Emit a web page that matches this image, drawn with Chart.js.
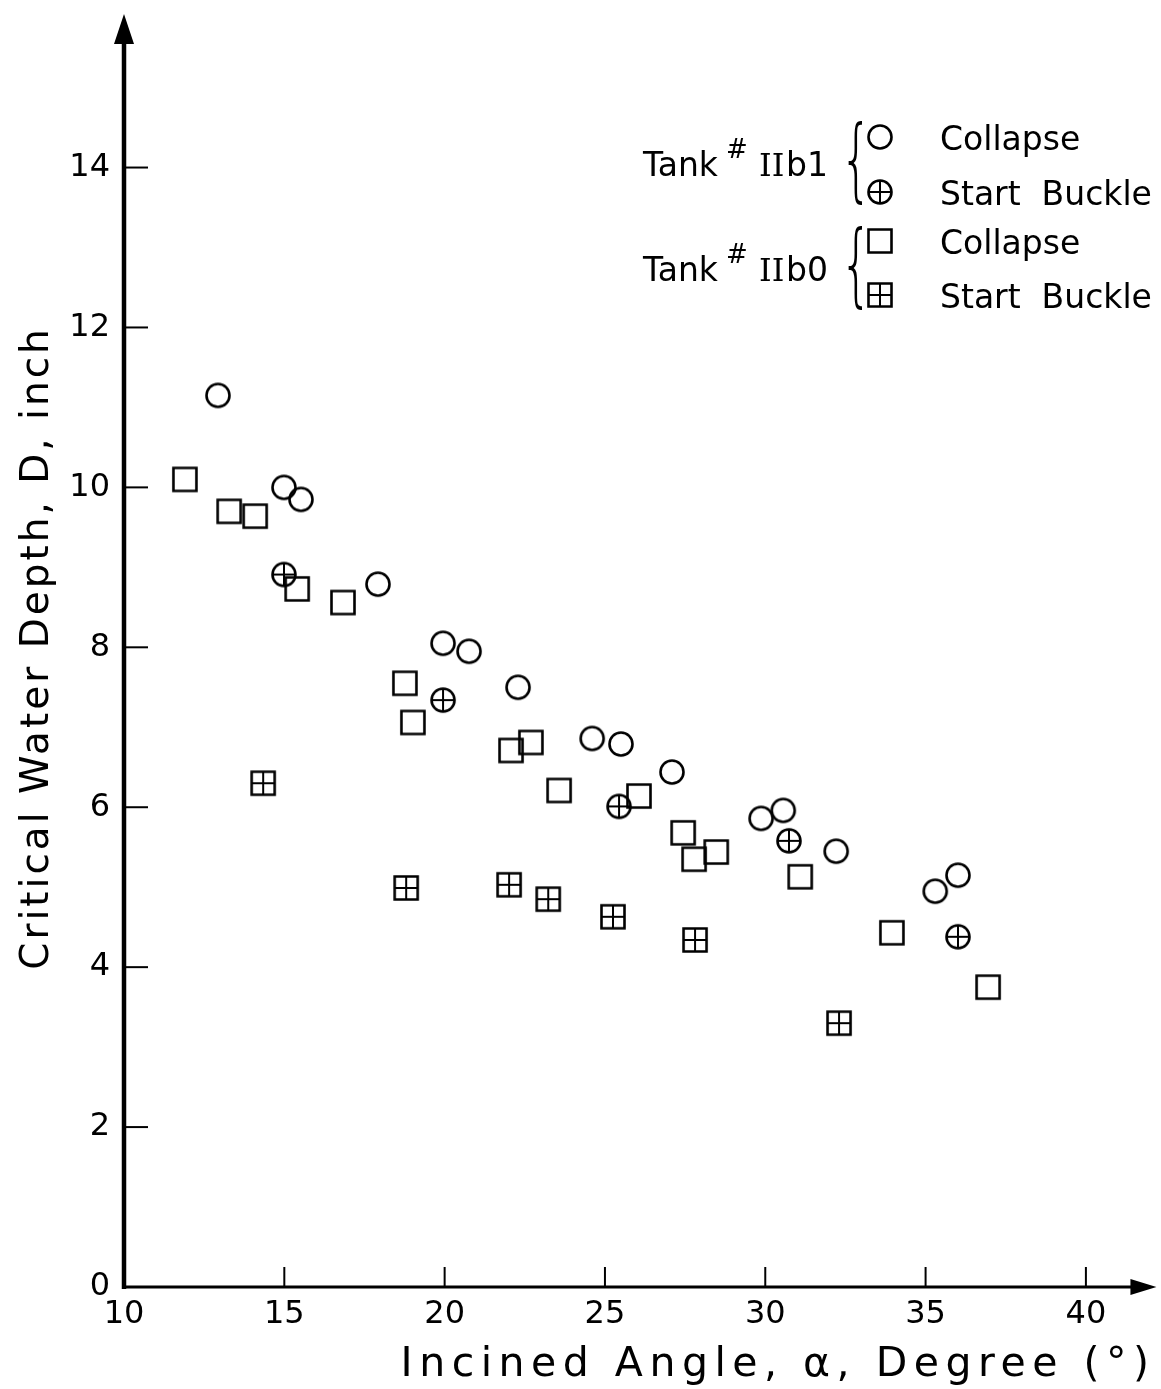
<!DOCTYPE html>
<html>
<head>
<meta charset="utf-8">
<script src="https://cdn.jsdelivr.net/npm/chart.js@4"></script>
<style>
  body { margin: 0; background: #fff; }
  canvas { display: block; }
</style>
</head>
<body>
<canvas id="chart" width="1161" height="1389"></canvas>
<script>
// Tank #IIb1 - collapse (open circle)
const anguloColapsoB1 = [12.93, 14.99, 15.52, 17.92, 19.95, 20.76, 22.29, 24.6, 25.5, 27.09, 29.87, 30.56, 32.21, 35.3, 36.01];
const profColapsoB1   = [11.15, 10.0, 9.85, 8.79, 8.05, 7.95, 7.5, 6.86, 6.79, 6.44, 5.86, 5.96, 5.45, 4.95, 5.15];
// Tank #IIb1 - start buckle (circle with cross)
const anguloInicioB1 = [14.99, 19.95, 25.44, 30.74, 36.01];
const profInicioB1   = [8.91, 7.34, 6.01, 5.58, 4.38];
// Tank #IIb0 - collapse (open square)
const anguloColapsoB0 = [11.9, 13.28, 14.09, 15.4, 16.83, 18.76, 19.01, 22.07, 22.69, 23.57, 26.06, 27.44, 27.78, 28.47, 31.09, 33.95, 36.95];
const profColapsoB0   = [10.1, 9.7, 9.64, 8.73, 8.56, 7.55, 7.06, 6.71, 6.81, 6.21, 6.14, 5.68, 5.35, 5.44, 5.13, 4.43, 3.75];
// Tank #IIb0 - start buckle (square with cross)
const anguloInicioB0 = [14.34, 18.8, 22.01, 23.23, 25.25, 27.81, 32.3];
const profInicioB0   = [6.3, 4.99, 5.03, 4.85, 4.63, 4.34, 3.3];

const ticksX = [10, 15, 20, 25, 30, 35, 40];
const ticksY = [0, 2, 4, 6, 8, 10, 12, 14];

const tituloX = 'Incined Angle, \u03b1, Degree (\u00b0)';
const tituloY = 'Critical Water Depth, D, inch';

const fonte = '"DejaVu Sans", sans-serif';

//monta pares x,y
function pares(xs, ys) {
  return xs.map((x, i) => ({x: x, y: ys[i]}));
}

//desenha os marcadores
function marcador(forma, cruz) {
  const c = document.createElement('canvas');
  c.width = 32; c.height = 32;
  const g = c.getContext('2d');
  g.strokeStyle = '#000';
  g.lineWidth = 2.6;
  g.beginPath();
  if (forma === 'circulo') {
    g.arc(16, 16, 11.5, 0, 2 * Math.PI);
  } else {
    g.rect(4.5, 4.5, 23, 23);
  }
  g.stroke();
  if (cruz) {
    g.lineWidth = 2;
    g.beginPath();
    g.moveTo(4.5, 16); g.lineTo(27.5, 16);
    g.moveTo(16, 4.5); g.lineTo(16, 27.5);
    g.stroke();
  }
  return c;
}

const mCirculo = marcador('circulo', false);
const mCirculoCruz = marcador('circulo', true);
const mQuadrado = marcador('quadrado', false);
const mQuadradoCruz = marcador('quadrado', true);

//eixos com setas, marcas para dentro e titulos
const eixosPlugin = {
  id: 'eixos',
  afterDraw(chart) {
    const ctx = chart.ctx;
    const sx = chart.scales.x, sy = chart.scales.y;
    const x0 = sx.getPixelForValue(10);
    const y0 = sy.getPixelForValue(0);
    const yTopo = sy.getPixelForValue(15.92);
    const xFim = sx.getPixelForValue(42.2);
    ctx.save();
    ctx.strokeStyle = '#000';
    ctx.fillStyle = '#000';
    // eixo y
    ctx.lineWidth = 4.5;
    ctx.beginPath(); ctx.moveTo(x0, y0 + 2); ctx.lineTo(x0, yTopo + 25); ctx.stroke();
    ctx.beginPath();
    ctx.moveTo(x0, yTopo); ctx.lineTo(x0 - 10, yTopo + 30); ctx.lineTo(x0 + 10, yTopo + 30);
    ctx.closePath(); ctx.fill();
    // eixo x
    ctx.lineWidth = 3;
    ctx.beginPath(); ctx.moveTo(x0 - 2, y0); ctx.lineTo(xFim - 20, y0); ctx.stroke();
    ctx.beginPath();
    ctx.moveTo(xFim, y0); ctx.lineTo(xFim - 26, y0 - 8); ctx.lineTo(xFim - 26, y0 + 8);
    ctx.closePath(); ctx.fill();
    // marcas
    ctx.lineWidth = 2;
    ticksY.forEach(v => {
      if (v === 0) return;
      const p = sy.getPixelForValue(v);
      ctx.beginPath(); ctx.moveTo(x0, p); ctx.lineTo(x0 + 24, p); ctx.stroke();
    });
    ticksX.forEach(v => {
      if (v === 10) return;
      const p = sx.getPixelForValue(v);
      ctx.beginPath(); ctx.moveTo(p, y0); ctx.lineTo(p, y0 - 20); ctx.stroke();
    });
    // titulos dos eixos (espacados como no original)
    ctx.letterSpacing = '6.5px';
    ctx.font = '41px ' + fonte;
    ctx.textAlign = 'center';
    ctx.textBaseline = 'alphabetic';
    ctx.fillText(tituloX, 778, 1376);
    ctx.save();
    ctx.translate(48, 648);
    ctx.rotate(-Math.PI / 2);
    ctx.letterSpacing = '3px';
    ctx.font = '39px ' + fonte;
    ctx.fillText(tituloY, 0, 0);
    ctx.restore();
    ctx.restore();
  }
};

//legenda desenhada à mão (chaves)
const legendaPlugin = {
  id: 'legenda',
  afterDraw(chart) {
    const ctx = chart.ctx;
    ctx.save();
    ctx.fillStyle = '#000';
    ctx.textBaseline = 'alphabetic';
    const linhas = [
      {tanque: 'b1', y1: 150, y2: 205, yT: 176, m1: mCirculo, m2: mCirculoCruz},
      {tanque: 'b0', y1: 254, y2: 308, yT: 281, m1: mQuadrado, m2: mQuadradoCruz}
    ];
    linhas.forEach(l => {
      ctx.font = '33px ' + fonte;
      ctx.fillText('Tank', 643, l.yT);
      ctx.font = '26px ' + fonte;
      ctx.fillText('#', 726, l.yT - 18);
      ctx.font = '32px "DejaVu Serif", serif';
      ctx.fillText('II', 759, l.yT);
      ctx.font = '33px ' + fonte;
      ctx.fillText(l.tanque, 786, l.yT);
      // chave
      ctx.save();
      ctx.translate(840, l.yT + 14);
      ctx.scale(0.85, 1.5);
      ctx.font = '200 60px ' + fonte;
      ctx.fillText('{', 0, 0);
      ctx.restore();
      ctx.drawImage(l.m1, 880 - 16, l.y1 - 13 - 16);
      ctx.drawImage(l.m2, 880 - 16, l.y2 - 13 - 16);
      ctx.font = '33px ' + fonte;
      ctx.fillText('Collapse', 940, l.y1);
      ctx.fillText('Start  Buckle', 940, l.y2);
    });
    ctx.restore();
  }
};

const config = {
  type: 'scatter',
  data: {
    datasets: [
      {label: 'Tank #IIb1 Collapse', data: pares(anguloColapsoB1, profColapsoB1), pointStyle: mCirculo},
      {label: 'Tank #IIb1 Start Buckle', data: pares(anguloInicioB1, profInicioB1), pointStyle: mCirculoCruz},
      {label: 'Tank #IIb0 Collapse', data: pares(anguloColapsoB0, profColapsoB0), pointStyle: mQuadrado},
      {label: 'Tank #IIb0 Start Buckle', data: pares(anguloInicioB0, profInicioB0), pointStyle: mQuadradoCruz}
    ]
  },
  options: {
    responsive: false,
    animation: false,
    layout: { padding: { top: 7, right: 27, left: 0, bottom: 0 } },
    plugins: {
      legend: { display: false },
      tooltip: { enabled: false }
    },
    scales: {
      x: {
        type: 'linear',
        min: 10,
        max: 41.5,
        afterFit: s => { s.height = 102; },
        afterBuildTicks: s => { s.ticks = ticksX.map(v => ({value: v})); },
        grid: { display: false, drawTicks: false },
        border: { display: false },
        ticks: { color: '#000', padding: 8, font: { family: fonte, size: 32 } },
        title: { display: false, text: tituloX }
      },
      y: {
        type: 'linear',
        min: 0,
        max: 15.68,
        afterFit: s => { s.width = 124; },
        afterBuildTicks: s => { s.ticks = ticksY.map(v => ({value: v})); },
        grid: { display: false, drawTicks: false },
        border: { display: false },
        ticks: { color: '#000', padding: 14, font: { family: fonte, size: 32 } },
        title: { display: false, text: tituloY }
      }
    }
  },
  plugins: [eixosPlugin, legendaPlugin]
};

new Chart(document.getElementById('chart'), config);
</script>
</body>
</html>
